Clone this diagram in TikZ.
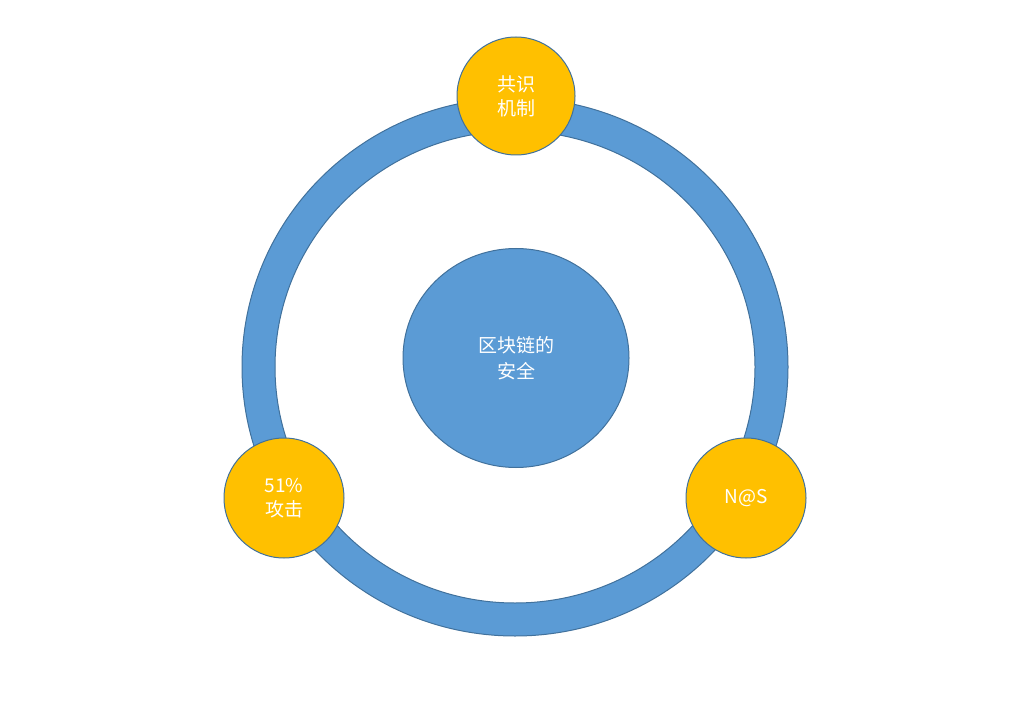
\documentclass[tikz,border=0pt]{standalone}
\usetikzlibrary{shapes.geometric}
\usepackage{fontspec}
\setmainfont{Noto Sans CJK SC}
\begin{document}
\begin{tikzpicture}[x=1pt,y=-1pt,
  ring/.style={fill={rgb,255:red,91;green,155;blue,213},draw={rgb,255:red,65;green,113;blue,156},line width=1pt},
  ball/.style={circle,fill={rgb,255:red,255;green,192;blue,0},draw={rgb,255:red,65;green,113;blue,156},line width=1pt,minimum size=118pt,inner sep=0pt,text=white,font=\fontsize{19}{24}\selectfont,align=center}]
\useasboundingbox (0,0) rectangle (1012,727);
\path[ring,even odd rule] (515,367) ellipse [x radius=273,y radius=269] (515,367) ellipse [x radius=240,y radius=236];
\node[ring,ellipse,minimum width=226pt,minimum height=219pt,text=white,font=\fontsize{19}{26}\selectfont,align=center] (c) at (516,358) {区块链的\\安全};
\node[ball] (t) at (516,96) {共识\\机制};
\node[ball,minimum size=120pt] (l) at (284,498) {51\%\\攻击};
\node[ball,minimum size=120pt] (r) at (746,498) {N@S};
\end{tikzpicture}
\end{document}
